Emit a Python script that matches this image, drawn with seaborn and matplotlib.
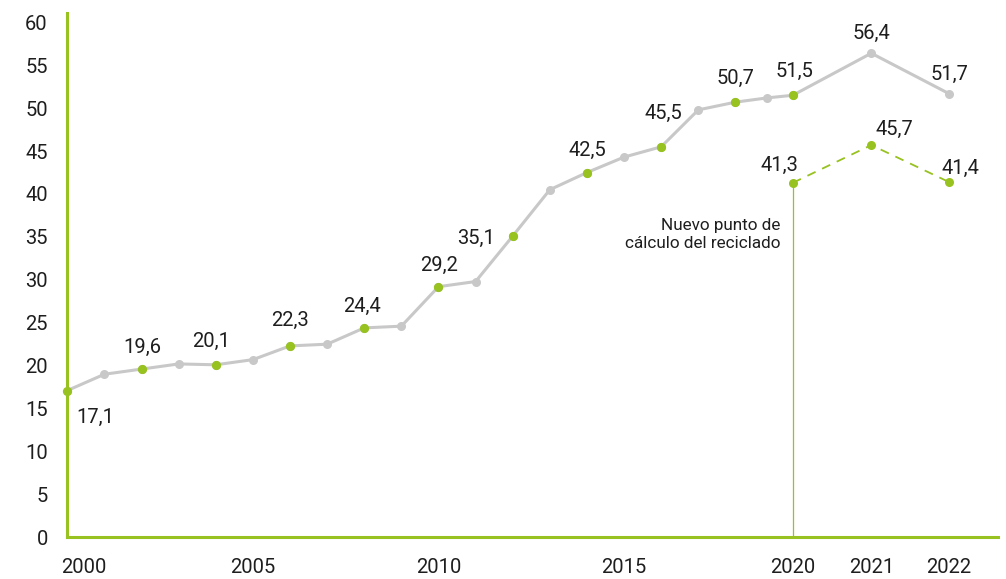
import numpy as np
import pandas as pd
import matplotlib
matplotlib.use("Agg")
import matplotlib.pyplot as plt
import matplotlib.transforms as mtransforms
import seaborn as sns

# Recycling rate (%) by year, previous calculation method
years = list(range(2000, 2023))
rate_old = [17.1, 19.0, 19.6, 20.2, 20.1, 20.7, 22.3, 22.5, 24.4, 24.6,
            29.2, 29.8, 35.1, 40.5, 42.5, 44.3, 45.5, 49.8, 50.7, 51.2,
            51.5, 56.4, 51.7]

# Recycling rate (%) with the new calculation point
years_new = [2020, 2021, 2022]
rate_new = [41.3, 45.7, 41.4]

# Years whose values are labelled / highlighted
labelled_years = [2000, 2002, 2004, 2006, 2008, 2010, 2012, 2014, 2016,
                  2018, 2020, 2021, 2022]
highlight_years = [2000, 2002, 2004, 2006, 2008, 2010, 2012, 2014, 2016,
                   2018, 2020]

x_ticks = [2000, 2005, 2010, 2015, 2020, 2021, 2022]
y_ticks = list(range(0, 61, 5))
note_text = "Nuevo punto de\ncálculo del reciclado"

GREEN = "#97c21f"
GREY = "#c8c8c8"
TEXT = "#1e1e1e"

sns.set_theme(style="white")
plt.rcParams["font.family"] = ["Roboto", "DejaVu Sans"]

df_old = pd.DataFrame({"year": years, "rate": rate_old})
df_new = pd.DataFrame({"year": years_new, "rate": rate_new})
df_hi = df_old[df_old["year"].isin(highlight_years)]

fig = plt.figure(figsize=(10.06, 5.79), dpi=100)
ax = fig.add_axes([0.0669, 0.0720, 0.9249, 0.9050])

# Year axis: the last years are spread wider than the earlier ones
brk_years = [1990, 2000, 2018, 2019, 2020, 2021, 2022, 2030]
brk_units = [-10.0, 0.0, 18.0, 18.86, 19.545, 21.66, 23.75, 40.47]


def fwd(v):
    return np.interp(v, brk_years, brk_units)


def inv(u):
    return np.interp(u, brk_units, brk_years)


ax.set_xscale("function", functions=(fwd, inv))

sns.lineplot(data=df_old, x="year", y="rate", ax=ax, color=GREY, lw=2.2,
             marker="o", markersize=6.5, markeredgewidth=0,
             markerfacecolor=GREY, zorder=2)
sns.scatterplot(data=df_hi, x="year", y="rate", ax=ax, color=GREEN, s=44,
                linewidth=0, zorder=4, clip_on=False)
sns.lineplot(data=df_new, x="year", y="rate", ax=ax, color=GREEN, lw=1.3,
             linestyle=(0, (5, 4)), marker="o", markersize=6.5,
             markeredgewidth=0, markerfacecolor=GREEN, zorder=3)

# Vertical marker for the change of method
ax.vlines(years_new[0], 0, rate_new[0], color=GREEN, lw=0.9, zorder=1)
ax.annotate(note_text, xy=(years_new[0], 37.2), xytext=(-12, 0),
            textcoords="offset pixels", ha="right", va="top",
            fontsize=12.3, color=TEXT, linespacing=1.25)


def fmt(v):
    return f"{v:.1f}".replace(".", ",")


# Label offsets in pixels (dx, dy) from each point
old_offsets = {2000: (28, -32), 2002: (1, 16), 2004: (-5, 18), 2006: (0, 20),
               2008: (-2, 16), 2010: (1, 16), 2012: (-37, -8), 2014: (0, 17),
               2016: (2, 28), 2018: (0, 18), 2020: (2, 18), 2021: (0, 14),
               2022: (1, 14)}
new_offsets = {2020: (-13, 12), 2021: (23, 10), 2022: (12, 8)}

for yr, val in zip(years, rate_old):
    if yr in labelled_years:
        dx, dy = old_offsets[yr]
        ax.annotate(fmt(val), xy=(yr, val), xytext=(dx, dy),
                    textcoords="offset pixels", ha="center", va="baseline",
                    fontsize=14.5, color=TEXT)
for yr, val in zip(years_new, rate_new):
    dx, dy = new_offsets[yr]
    ax.annotate(fmt(val), xy=(yr, val), xytext=(dx, dy),
                textcoords="offset pixels", ha="center", va="baseline",
                fontsize=14.5, color=TEXT)

ax.set_xlim(2000, 2022.63)
ax.set_ylim(0, 61.05)
ax.set_xticks(x_ticks)
ax.set_xticklabels([str(t) for t in x_ticks])
ax.set_yticks(y_ticks)
ax.set_yticklabels([str(t) for t in y_ticks])
ax.minorticks_off()
ax.tick_params(axis="both", length=0, labelsize=14.5, labelcolor=TEXT)
ax.tick_params(axis="y", pad=14)
ax.tick_params(axis="x", pad=15)
ax.set_xlabel("")
ax.set_ylabel("")

# First year label sits to the right of the axis corner
first = ax.get_xticklabels()[0]
first.set_transform(first.get_transform() +
                    mtransforms.ScaledTranslation(17 / 100, 0, fig.dpi_scale_trans))

for side in ("top", "right"):
    ax.spines[side].set_visible(False)
for side in ("left", "bottom"):
    ax.spines[side].set_color(GREEN)
    ax.spines[side].set_linewidth(2.2)
ax.grid(False)

fig.savefig("out.png", dpi=100)
